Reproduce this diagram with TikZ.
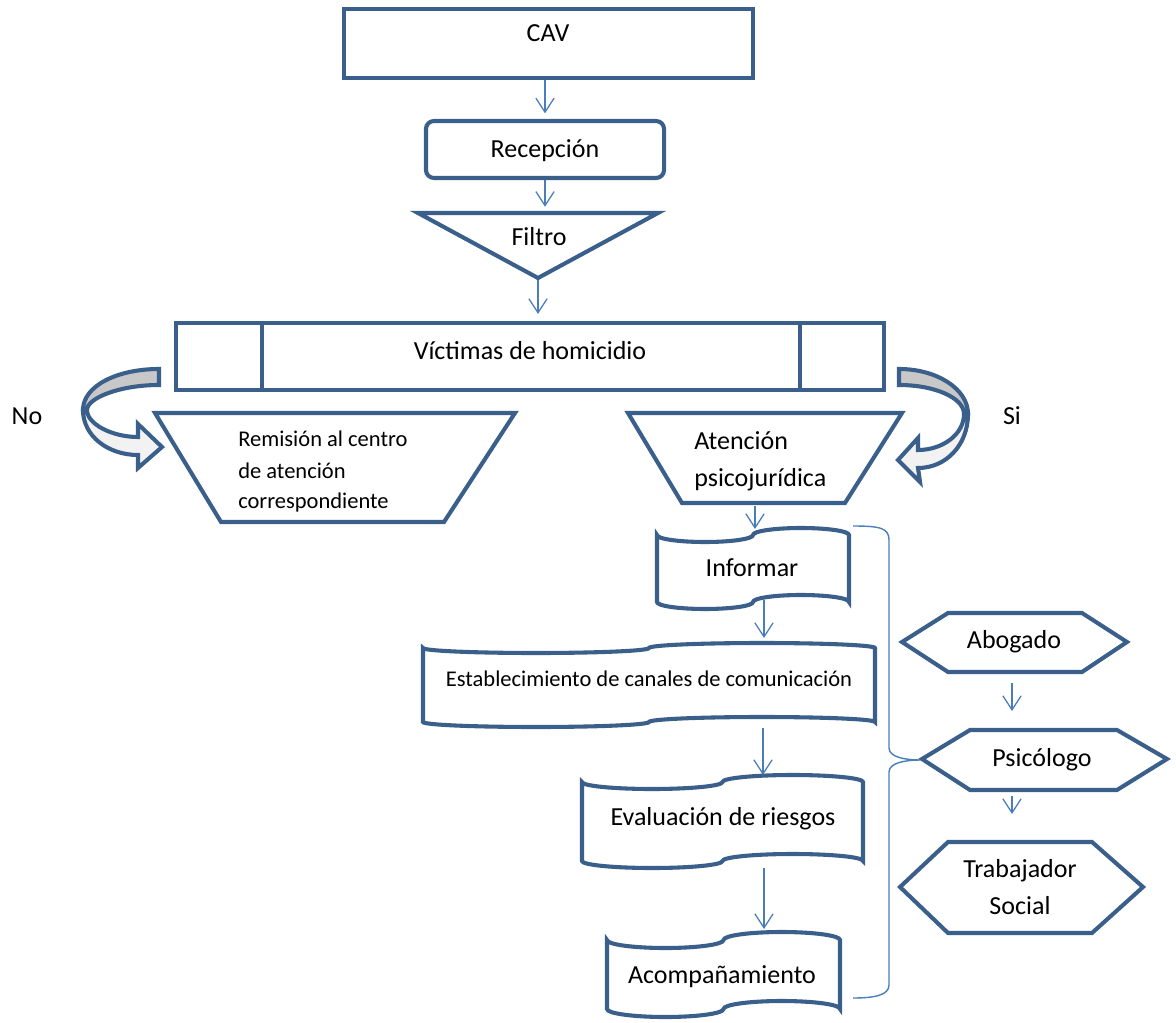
\documentclass[tikz,border=0pt]{standalone}
\usepackage{fontspec}
\setmainfont{Carlito}
\usetikzlibrary{arrows.meta}

\definecolor{boxblue}{HTML}{3A5F8B}
\definecolor{linkblue}{HTML}{4A7EBB}
\definecolor{bandgray}{HTML}{C8C8C8}
\definecolor{bandlight}{HTML}{F2F2F2}

% punched tape outline: x0, x1, top, bottom, wave height
\newcommand{\tapeshape}[5]{%
  \pgfmathsetmacro{\taper}{(#2-#1)/4}
  \draw[outline] (#1,-#3)
    arc[start angle=180, end angle=360, x radius=\taper, y radius=#5]
    arc[start angle=180, end angle=0, x radius=\taper, y radius=#5] -- (#2,-#4)
    arc[start angle=0, end angle=180, x radius=\taper, y radius=#5]
    arc[start angle=0, end angle=-180, x radius=\taper, y radius=#5] -- cycle;}

\begin{document}
\begin{tikzpicture}[
  x=0.025cm, y=0.025cm,
  outline/.style={draw=boxblue, line width=2.9pt, fill=white},
  flow/.style={draw=linkblue, line width=0.9pt, -{Straight Barb[length=10pt,width=13pt]}},
  brace/.style={draw=linkblue, line width=1pt},
  lbl/.style={font=\fontsize{18.5}{26}\selectfont, inner sep=0pt, anchor=base},
  small/.style={font=\fontsize{16}{22}\selectfont, inner sep=0pt, anchor=base west}
]
\useasboundingbox (0,0) rectangle (1176,-1023);

% Top of the chart
\node[outline, minimum width=10.225cm, minimum height=1.725cm] (cav) at (548.5,-43.5) {};
\node[lbl] (cav-t) at (548,-42) {CAV};

\node[outline, rounded corners=0.2cm, minimum width=5.95cm, minimum height=1.425cm] (rec) at (545,-149.5) {};
\node[lbl] (rec-t) at (545,-158) {Recepción};

\draw[outline] (418,-213) -- (658,-213) -- (538,-278) -- cycle;
\coordinate (fil-n) at (545,-211);
\coordinate (fil) at (538,-280);
\node[lbl] (fil-t) at (539,-246) {Filtro};

\node[outline, minimum width=17.7cm, minimum height=1.675cm] (vic) at (530,-356.5) {};
\draw[boxblue, line width=2.9pt] (262,-323) -- (262,-390) (800,-323) -- (800,-390);
\node[lbl] (vic-t) at (530,-360) {Víctimas de homicidio};

\draw[flow, shorten >=4pt] (cav.south -| rec) -- (rec.north);
\draw[flow, shorten >=3pt] (rec.south) -- (fil-n);
\draw[flow, shorten >=5pt] (fil) -- (fil |- vic.north);

% No branch
\draw[outline, fill=bandgray] (159,-369) .. controls (117,-369) and (83,-386) .. (83,-410)
  -- (87,-410) .. controls (87,-398) and (120,-385) .. (159,-385) -- cycle;
\draw[outline, fill=bandlight] (83,-410) .. controls (83,-436) and (108,-455) .. (138,-455)
  -- (138,-468) -- (162,-447) -- (138,-424) -- (138,-437)
  .. controls (112,-437) and (87,-424) .. (87,-410) -- cycle;
\node[lbl] (no) at (27,-425) {No};

\draw[outline] (155,-413) -- (515,-413) -- (444,-522) -- (221,-522) -- cycle;
\node[small] (rem-1) at (238,-446) {Remisión al centro};
\node[small] (rem-2) at (238,-478) {de atención};
\node[small] (rem-3) at (238,-508) {correspondiente};

% Si branch
\draw[outline, fill=bandgray] (899,-369) .. controls (937,-369) and (968,-389) .. (968,-414)
  -- (964,-414) .. controls (964,-398) and (935,-385) .. (899,-385) -- cycle;
\draw[outline, fill=bandlight] (968,-414) .. controls (968,-445) and (946,-468) .. (918,-468)
  -- (920,-482) -- (898,-460) -- (918,-438) -- (918,-450)
  .. controls (943,-450) and (964,-434) .. (964,-414) -- cycle;
\node[lbl] (si) at (1012,-425) {Si};

\draw[outline] (628,-413) -- (902,-413) -- (845,-503) -- (682,-503) -- cycle;
\node[lbl, anchor=base west] (ate-1) at (694,-449) {Atención};
\node[lbl, anchor=base west] (ate-2) at (694,-486) {psicojurídica};

% Steps
\tapeshape{657}{849}{535}{602}{7}
\node[lbl] (inf) at (752,-576) {Informar};
\tapeshape{423}{875}{648}{722}{5}
\node[small, anchor=base] (est) at (649,-686) {Establecimiento de canales de comunicación};
\tapeshape{582}{863}{782}{861}{7}
\node[lbl] (eva) at (723,-825) {Evaluación de riesgos};
\tapeshape{607}{840}{940}{1009}{8}
\node[lbl] (aco) at (722,-983) {Acompañamiento};

\coordinate (ate-s) at (755,-506);
\coordinate (inf-n) at (755,-529);
\coordinate (inf-s) at (764,-600);
\coordinate (est-n) at (764,-638);
\coordinate (est-s) at (763,-728);
\coordinate (eva-n) at (763,-775);
\coordinate (eva-s) at (764,-868);
\coordinate (aco-n) at (764,-929);
\draw[flow] (ate-s) -- (inf-n);
\draw[flow] (inf-s) -- (est-n);
\draw[flow] (est-s) -- (eva-n);
\draw[flow] (eva-s) -- (aco-n);

% Professionals
\draw[outline] (902,-642) -- (948,-613) -- (1082,-613) -- (1127,-642) -- (1082,-672) -- (948,-672) -- cycle;
\node[lbl] (abo) at (1014,-648) {Abogado};
\draw[outline] (922,-759) -- (970,-730) -- (1117,-730) -- (1167,-759) -- (1117,-790) -- (970,-790) -- cycle;
\node[lbl] (psi) at (1042,-766) {Psicólogo};
\draw[outline] (900,-887) -- (948,-842) -- (1092,-842) -- (1143,-887) -- (1092,-933) -- (948,-933) -- cycle;
\node[lbl] (tra-1) at (1020,-877) {Trabajador};
\node[lbl] (tra-2) at (1020,-914) {Social};

\coordinate (abo-s) at (1012,-683);
\coordinate (psi-n) at (1012,-711);
\coordinate (psi-s) at (1012,-796);
\coordinate (tra-n) at (1012,-814);
\draw[flow] (abo-s) -- (psi-n);
\draw[flow] (psi-s) -- (tra-n);

% Brace
\coordinate (psi-w) at (920,-760);
\draw[brace] (853,-526) .. controls (880,-526) and (889,-528) .. (889,-540) -- (889,-748)
  .. controls (889,-757) and (905,-760) .. (psi-w)
  .. controls (905,-760) and (889,-763) .. (889,-772) -- (889,-985)
  .. controls (889,-995) and (875,-998) .. (853,-998);
\end{tikzpicture}
\end{document}
